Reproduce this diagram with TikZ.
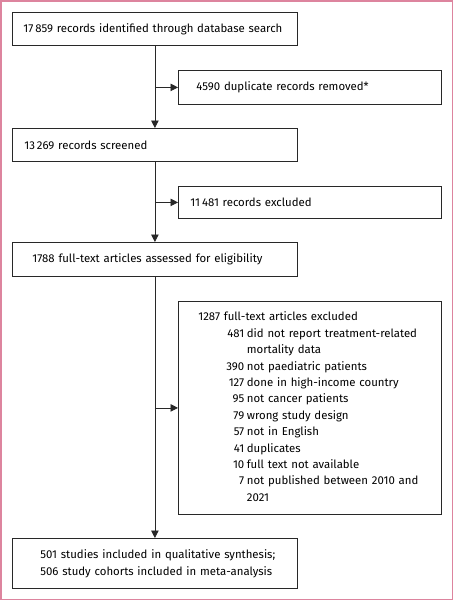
\documentclass[tikz,border=0pt]{standalone}
\usepackage{fontspec}
\setmainfont{Fira Sans}
\usetikzlibrary{arrows.meta}
\definecolor{framepink}{RGB}{221,132,158}
\definecolor{linegray}{RGB}{40,40,40}
\begin{document}
\begin{tikzpicture}[x=1pt,y=-1pt,
  box/.style={draw=linegray, line width=0.8pt, anchor=north west, align=left,
    inner ysep=0pt, font=\fontsize{11.4}{17}\selectfont, text=black},
  arr/.style={draw=linegray, line width=0.8pt, -{Triangle[length=7.5pt,width=7.5pt]}},
  ln/.style={draw=linegray, line width=0.8pt}]
\useasboundingbox (0,0) rectangle (453,600);
\draw[framepink, line width=1.5pt] (0.75,0.75) rectangle (452.25,599.25);

\node[box, minimum width=285pt, minimum height=33pt, inner xsep=11pt, text width=263pt] (b1) at (12,12)
  {\mbox{17\,859 records identified through database search}};
\node[box, minimum width=263pt, minimum height=34pt, inner xsep=18pt, text width=227pt] (b2) at (178,70)
  {\mbox{4590 duplicate records removed*}};
\node[box, minimum width=285pt, minimum height=33pt, inner xsep=12pt, text width=261pt] (b3) at (12,128)
  {\mbox{13\,269 records screened}};
\node[box, minimum width=263pt, minimum height=32pt, inner xsep=12pt, text width=239pt] (b4) at (178,186)
  {\mbox{11\,481 records excluded}};
\node[box, minimum width=285pt, minimum height=34pt, inner xsep=20pt, text width=245pt] (b5) at (12,242)
  {\mbox{1788 full-text articles assessed for eligibility}};
\node[box, minimum width=263pt, minimum height=213pt, inner xsep=20pt, text width=223pt] (b6) at (178,301)
  {\fontsize{11.4}{16.4}\selectfont
   \begin{tabular}{@{}l@{}r@{\hspace{2.6pt}}l@{}}
   \multicolumn{3}{@{}l@{}}{1287 full-text articles excluded}\\
   \hspace*{28pt} & 481 & did not report treatment-related\\
    & & mortality data\\
    & 390 & not paediatric patients\\
    & 127 & done in high-income country\\
    & 95 & not cancer patients\\
    & 79 & wrong study design\\
    & 57 & not in English\\
    & 41 & duplicates\\
    & 10 & full text not available\\
    & 7 & not published between 2010 and\\
    & & 2021
   \end{tabular}};
\node[box, minimum width=285pt, minimum height=50pt, inner xsep=28pt, text width=229pt] (b7) at (12,538)
  {\mbox{501 studies included in qualitative synthesis;}\\\mbox{506 study cohorts included in meta-analysis}};

\coordinate (j1) at (b1.south |- b2.west);
\coordinate (j2) at (b3.south |- b4.west);
\coordinate (j3) at (b5.south |- b6.west);
\draw[arr] (b1.south) -- (b3.north);
\draw[arr] (j1) -- (b2.west);
\draw[arr] (b3.south) -- (b5.north);
\draw[arr] (j2) -- (b4.west);
\draw[arr] (b5.south) -- (b7.north);
\draw[arr] (j3) -- (b6.west);
\end{tikzpicture}
\end{document}
